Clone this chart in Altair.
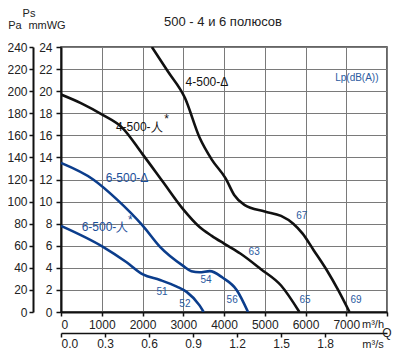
import altair as alt
import pandas as pd

# ---- data (Q in m3/h, Ps in mmWG) ----
q_4d = [2230, 2620, 3040, 3400, 3700, 4040, 4250, 4500, 5000, 5400, 5700, 5930, 6200, 6520, 6800, 7080]
p_4d = [24.0, 21.8, 19.4, 15.8, 13.8, 12.1, 10.6, 9.7, 9.1, 8.7, 8.0, 7.1, 5.6, 3.8, 2.0, 0.0]

q_4y = [0, 500, 1000, 1500, 2000, 2500, 3000, 3400, 3700, 4000, 4400, 4900, 5400, 5850]
p_4y = [19.7, 18.9, 17.9, 16.7, 14.3, 11.8, 9.3, 7.7, 6.9, 6.2, 5.3, 3.9, 2.4, 0.0]

q_6d = [0, 790, 1370, 2010, 2430, 2990, 3200, 3400, 3650, 3970, 4310, 4590]
p_6d = [13.5, 12.0, 10.2, 7.8, 5.9, 4.2, 3.7, 3.6, 3.7, 3.1, 2.0, 0.0]

q_6y = [0, 1030, 1610, 2010, 2430, 2840, 3090, 3400, 3500]
p_6y = [7.8, 5.9, 4.5, 3.4, 2.9, 2.3, 1.8, 0.6, 0.0]

series_names = ["4-500-Δ", "4-500-人", "6-500-Δ", "6-500-人"]
series_colors = ["#111111", "#111111", "#0b3d8c", "#0b3d8c"]

curve_label_text = ["4-500-Δ", "4-500-人", "6-500-Δ", "6-500-人", "*", "*"]
curve_label_q = [3580, 1920, 1620, 1080, 2590, 1700]
curve_label_p = [20.8, 16.8, 12.1, 7.7, 17.5, 8.3]
curve_label_col = ["#111111", "#111111", "#1a4e9a", "#1a4e9a", "#111111", "#1a4e9a"]

lp_text = ["51", "52", "54", "56", "63", "65", "67", "69", "Lp(dB(A))"]
lp_q = [2480, 3040, 3560, 4200, 4740, 5990, 5910, 7240, 7260]
lp_p = [1.8, 0.7, 2.9, 1.05, 5.4, 1.05, 8.7, 1.05, 21.2]

q_ticks = [0, 1000, 2000, 3000, 4000, 5000, 6000, 7000, 8000]
ps_ticks = list(range(0, 26, 2))
pa_ticks = list(range(0, 260, 20))
qs_ticks = [0.0, 0.3, 0.6, 0.9, 1.2, 1.5, 1.8]

FONT = "Liberation Sans, Arial, sans-serif"
W, H = 326, 265

rows = []
for name, qs, ps in zip(series_names, [q_4d, q_4y, q_6d, q_6y], [p_4d, p_4y, p_6d, p_6y]):
    for q, p in zip(qs, ps):
        rows.append({"series": name, "Q": q, "Ps": p})
curves = pd.DataFrame(rows)

xs = alt.Scale(domain=[0, 8000], nice=False, zero=False)
ys = alt.Scale(domain=[0, 24], nice=False, zero=False)

lines = alt.Chart(curves).mark_line(strokeWidth=2.6, interpolate="monotone", clip=True).encode(
    x=alt.X("Q:Q", scale=xs, axis=alt.Axis(
        values=q_ticks, title=None, grid=True, gridColor="#7a7a7a", gridOpacity=1, gridWidth=1,
        domainColor="#111", domainWidth=2, tickColor="#111", tickSize=4, tickWidth=1.5,
        labelFont=FONT, labelFontSize=12, labelColor="#222", labelPadding=3,
        labelExpr="datum.value >= 8000 ? '' : datum.label", format="d")),
    y=alt.Y("Ps:Q", scale=ys, axis=alt.Axis(
        values=ps_ticks, title=None, grid=True, gridColor="#7a7a7a", gridOpacity=1, gridWidth=1,
        domainColor="#111", domainWidth=2, tickColor="#111", tickSize=5, tickWidth=1.5,
        labelFont=FONT, labelFontSize=12, labelColor="#222", labelPadding=4)),
    color=alt.Color("series:N", scale=alt.Scale(domain=series_names, range=series_colors), legend=None),
    detail="series:N",
)

cl = pd.DataFrame({"t": curve_label_text, "Q": curve_label_q, "Ps": curve_label_p, "c": curve_label_col})
curve_labels = alt.Chart(cl).mark_text(font=FONT, fontSize=12).encode(
    x=alt.X("Q:Q", scale=xs, axis=None),
    y=alt.Y("Ps:Q", scale=ys, axis=None),
    text="t:N",
    color=alt.Color("c:N", scale=None),
)

lp = pd.DataFrame({"t": lp_text, "Q": lp_q, "Ps": lp_p})
lp_labels = alt.Chart(lp).mark_text(font=FONT, fontSize=10, color="#2a5aa0").encode(
    x=alt.X("Q:Q", scale=xs, axis=None),
    y=alt.Y("Ps:Q", scale=ys, axis=None),
    text="t:N",
)

pa = pd.DataFrame({"Pa": [0, 240]})
pa_axis = alt.Chart(pa).mark_tick(opacity=0).encode(
    y=alt.Y("Pa:Q", scale=alt.Scale(domain=[0, 240], nice=False, zero=False), axis=alt.Axis(
        orient="left", offset=28, values=pa_ticks, title=None, grid=False,
        domainColor="#111", domainWidth=2, tickColor="#111", tickSize=4, tickWidth=1.5,
        labelFont=FONT, labelFontSize=12, labelColor="#222", labelPadding=2)),
)

qs = pd.DataFrame({"Qs": [0, 8000 / 3600]})
qs_axis = alt.Chart(qs).mark_tick(opacity=0).encode(
    x=alt.X("Qs:Q", scale=alt.Scale(domain=[0, 8000 / 3600], nice=False, zero=False), axis=alt.Axis(
        orient="bottom", offset=21, values=qs_ticks, title=None, grid=False, format=".1f",
        domainColor="#111", domainWidth=1.5, tickColor="#111", tickSize=4, tickWidth=1.5,
        labelFont=FONT, labelFontSize=12, labelColor="#222", labelPadding=1)),
)

texts = pd.DataFrame({
    "t": ["500 - 4 и 6 полюсов", "Ps", "Pa", "mmWG", "m³/h", "Q", "m³/s"],
    "px": [162, -32, -46, -14, 312, 326, 312],
    "py": [-25, -33, -21, -21, 278, 286, 298],
    "fs": [13, 11, 11, 11, 11, 12, 11],
})
extra = alt.Chart(texts).mark_text(font=FONT, color="#222").encode(
    x=alt.X("px:Q", scale=None),
    y=alt.Y("py:Q", scale=None),
    text="t:N",
    size=alt.Size("fs:Q", scale=None),
)

chart = alt.layer(lines, curve_labels, lp_labels, pa_axis, qs_axis, extra).resolve_scale(
    x="independent", y="independent"
).properties(
    width=W, height=H,
    autosize=alt.AutoSizeParams(type="none"),
    padding={"left": 53, "top": 39, "right": 5, "bottom": 40},
).configure_view(stroke="#333", strokeWidth=1.5)

chart.save("out.html", embed_options={"renderer": "svg", "actions": False})
